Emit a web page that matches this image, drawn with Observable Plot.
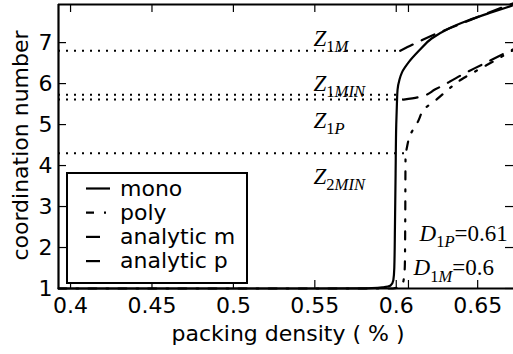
<!DOCTYPE html>
<html>
<head>
<meta charset="utf-8">
<script src="https://cdn.jsdelivr.net/npm/d3@7"></script>
<script src="https://cdn.jsdelivr.net/npm/@observablehq/plot@0.6"></script>
<style>
  html, body { margin: 0; padding: 0; background: #fff; }
  #chart { width: 513px; height: 354px; }
</style>
</head>
<body>
<div id="chart"></div>
<script>
// ---- data ----
const seriesNames = ["mono", "poly", "analytic m", "analytic p"];

const monoX = [0.3926, 0.55, 0.575, 0.585, 0.592, 0.5964, 0.5982, 0.5988, 0.5992, 0.5996, 0.6, 0.6004, 0.6008, 0.602, 0.6036, 0.6078, 0.6139, 0.6217, 0.632, 0.644, 0.6578, 0.671];
const monoY = [1.0, 1.0, 1.003, 1.01, 1.03, 1.07, 1.2, 1.5, 2.5, 3.8, 5.0, 5.5, 5.85, 6.1, 6.28, 6.53, 6.8, 7.1, 7.34, 7.54, 7.73, 7.9];

const polyX = [0.3926, 0.598, 0.602, 0.6045, 0.6053, 0.6055, 0.6057, 0.6066, 0.6084, 0.6133, 0.6175, 0.625, 0.632, 0.64, 0.65, 0.66, 0.672];
const polyY = [1.0, 1.0, 1.04, 1.2, 1.6, 2.5, 4.2, 4.45, 4.73, 5.07, 5.39, 5.62, 5.86, 6.1, 6.33, 6.55, 6.82];

const anaMX = [0.6024, 0.611, 0.6247, 0.6398, 0.6566, 0.672];
const anaMY = [6.8, 6.97, 7.22, 7.46, 7.73, 7.96];

const anaPX = [0.6045, 0.614, 0.624, 0.633, 0.642, 0.652, 0.662, 0.672];
const anaPY = [5.61, 5.67, 5.86, 6.05, 6.25, 6.45, 6.65, 6.84];

// horizontal reference levels (dotted) and where they end
const zLevels = [6.8, 5.73, 5.61, 4.3];
const zEnds = [0.6024, 0.6006, 0.6045, 0.606];

// annotation labels
const zLabels = ["Z_{1M}", "Z_{1MIN}", "Z_{1P}", "Z_{2MIN}"];
const zLabelX = [0.5492, 0.5492, 0.5492, 0.5492];
const zLabelY = [7.1, 6.0, 5.1, 3.73];
const dLabels = ["D_{1P}=0.61", "D_{1M}=0.6"];
const dLabelX = [0.6143, 0.6106];
const dLabelY = [2.35, 1.5];

// ticks
const xTickLabels = [0.4, 0.45, 0.5, 0.55, 0.6, 0.65];
const xTickMarks = [0.4, 0.45, 0.5, 0.55, 0.6, 0.6075, 0.65];
const yTicks = [1, 2, 3, 4, 5, 6, 7];

const xDomain = [0.3926, 0.672];
const yDomain = [1, 7.93];

// ---- build tables ----
const toRows = (xs, ys, s) => xs.map((x, i) => ({x, y: ys[i], s}));
const lines = [
  toRows(monoX, monoY, "mono"),
  toRows(polyX, polyY, "poly"),
  toRows(anaMX, anaMY, "analytic m"),
  toRows(anaPX, anaPY, "analytic p")
];
const styles = {
  "mono": {dash: null},
  "poly": {dash: "8,10,2,10"},
  "analytic m": {dash: "14,10"},
  "analytic p": {dash: "14,10"}
};
const refRows = zLevels.map((y, i) => ({y, x1: xDomain[0], x2: zEnds[i]}));
const zRows = zLabels.map((t, i) => ({t, x: zLabelX[i], y: zLabelY[i]}));
const dRows = dLabels.map((t, i) => ({t, x: dLabelX[i], y: dLabelY[i]}));

const W = 513, H = 354, mL = 58, mR = 0, mT = 4, mB = 66;
const innerW = W - mL - mR, innerH = H - mT - mB, tk = 8;
const sans = "DejaVu Sans, Bitstream Vera Sans, sans-serif";
const serif = "Liberation Serif, DejaVu Serif, serif";

const plot = Plot.plot({
  width: W, height: H,
  marginLeft: mL, marginRight: mR, marginTop: mT, marginBottom: mB,
  style: {background: "white", fontFamily: sans, color: "black", overflow: "visible"},
  x: {domain: xDomain},
  y: {domain: yDomain},
  marks: [
    Plot.ruleY(refRows, {y: "y", x1: "x1", x2: "x2", stroke: "black", strokeWidth: 2, strokeDasharray: "2,6"}),
    ...lines.map(rows => Plot.line(rows, {
      x: "x", y: "y", stroke: "black", strokeWidth: 2.2,
      strokeDasharray: styles[rows[0].s].dash, curve: "monotone-y"
    })),
    Plot.text(zRows, {x: "x", y: "y", text: "t", textAnchor: "start", fontFamily: serif, fontSize: 23, fill: "black"}),
    Plot.text(dRows, {x: "x", y: "y", text: "t", textAnchor: "start", fontFamily: serif, fontSize: 23, fill: "black"}),
    // frame (left, top, bottom)
    Plot.ruleX([xDomain[0]], {stroke: "black", strokeWidth: 2.2}),
    Plot.ruleY([yDomain[0], yDomain[1]], {stroke: "black", strokeWidth: 2.2}),
    // inward ticks
    Plot.ruleX(xTickMarks, {stroke: "black", strokeWidth: 1.2, insetTop: innerH - tk}),
    Plot.ruleX(xTickMarks, {stroke: "black", strokeWidth: 1.2, insetBottom: innerH - tk}),
    Plot.ruleY(yTicks, {stroke: "black", strokeWidth: 1.2, insetRight: innerW - tk}),
    Plot.ruleY(yTicks, {stroke: "black", strokeWidth: 1.2, insetLeft: innerW - tk}),
    // axes labels
    Plot.axisX(xTickLabels, {anchor: "bottom", tickSize: 0, tickPadding: 9, fontSize: 22, label: null, tickFormat: d => String(d)}),
    Plot.axisY(yTicks, {anchor: "left", tickSize: 0, tickPadding: 6, fontSize: 22, label: null, tickFormat: d => String(d)}),
    Plot.text(["packing density ( % )"], {frameAnchor: "bottom", textAnchor: "middle", dy: 52, dx: 2, fontSize: 22, fill: "black"}),
    Plot.text(["coordination number"], {frameAnchor: "left", textAnchor: "middle", rotate: -90, dx: -38, dy: -1, fontSize: 22, fill: "black"})
  ]
});

// LaTeX-like subscripts for annotation text
const NS = "http://www.w3.org/2000/svg";
d3.select(plot).selectAll("text").each(function() {
  const el = this;
  if (el.querySelector("tspan")) return;
  const s = el.textContent;
  const m = s.match(/^([A-Za-z])_\{([^}]*)\}(.*)$/);
  if (!m) return;
  const fs = parseFloat(el.parentNode.getAttribute("font-size")) || 23;
  el.textContent = "";
  const add = (t, attrs) => {
    const ts = document.createElementNS(NS, "tspan");
    ts.textContent = t;
    for (const k in attrs) ts.setAttribute(k, attrs[k]);
    el.appendChild(ts);
  };
  add(m[1], {"font-style": "italic"});
  const parts = m[2].match(/\d+|[^\d]+/g);
  const sub = fs * 0.72, shift = fs * 0.28;
  parts.forEach((p, i) => {
    const a = {"font-style": /\d/.test(p) ? "normal" : "italic", "font-size": sub};
    if (i === 0) a.dy = shift;
    add(p, a);
  });
  if (m[3]) add(m[3], {"font-style": "normal", dy: -shift});
});

// legend (inside the plot area)
const svg = d3.select(plot);
const lg = svg.append("g");
lg.append("rect").attr("x", 67).attr("y", 173).attr("width", 180).attr("height", 110)
  .attr("fill", "white").attr("stroke", "black").attr("stroke-width", 2);
seriesNames.forEach((name, i) => {
  const cy = 188.5 + i * 24.2;
  lg.append("line").attr("x1", 86).attr("x2", 110).attr("y1", cy).attr("y2", cy)
    .attr("stroke", "black").attr("stroke-width", 2.2)
    .attr("stroke-dasharray", styles[name].dash);
  lg.append("text").attr("x", 120).attr("y", cy).attr("dy", "0.32em")
    .attr("text-anchor", "start")
    .attr("font-family", sans).attr("font-size", 22).attr("fill", "black").text(name);
});

document.getElementById("chart").appendChild(plot);
</script>
</body>
</html>
